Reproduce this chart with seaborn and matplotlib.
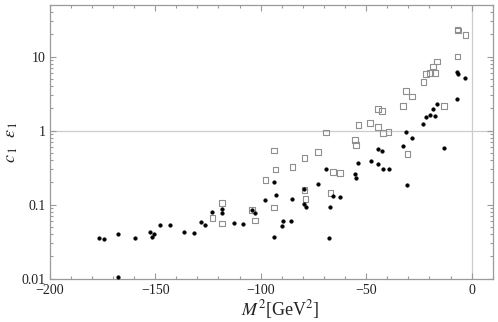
import numpy as np
import pandas as pd
import matplotlib
matplotlib.use("Agg")
import matplotlib.pyplot as plt
import seaborn as sns
from matplotlib.ticker import MultipleLocator, LogLocator, FixedLocator, NullFormatter

# ---- data ----
c1_m2 = [-176.8, -174.4, -167.6, -167.6, -159.6, -152.6, -151.6, -150.4, -147.9, -143.0,
         -136.2, -131.6, -128.3, -126.6, -122.9, -118.2, -118.2, -112.7, -108.6, -104.0,
         -102.6, -98.0, -93.8, -92.9, -93.7, -89.2, -89.8, -85.5, -85.3, -79.6,
         -79.6, -78.7, -72.9, -69.1, -65.6, -67.1, -67.8, -62.4, -55.3, -54.7,
         -54.0, -47.9, -44.4, -42.0, -39.3, -44.4, -42.4, -32.6, -13.0, -30.8,
         -31.0, -28.4, -22.9, -21.7, -19.8, -17.3, -18.5, -16.3, -6.8, -6.8,
         -6.6, -3.0]
c1_val = [0.0360, 0.0344, 0.0407, 0.0104, 0.0356, 0.0430, 0.0365, 0.0405, 0.0538, 0.0525,
          0.0430, 0.0415, 0.0575, 0.0525, 0.0788, 0.0872, 0.0771, 0.0574, 0.0555, 0.0846,
          0.0780, 0.117, 0.2015, 0.136, 0.0371, 0.061, 0.0514, 0.061, 0.121, 0.165,
          0.103, 0.092, 0.192, 0.308, 0.130, 0.0934, 0.0355, 0.128, 0.258, 0.228,
          0.363, 0.386, 0.354, 0.301, 0.305, 0.567, 0.538, 0.615, 0.590, 0.186,
          0.949, 0.805, 1.24, 1.54, 1.61, 1.59, 1.96, 2.33, 2.67, 6.22,
          5.90, 5.12]

e1_m2 = [-122.9, -118.2, -118.2, -104.0, -102.6, -97.8, -93.6, -93.0, -93.6, -85.0,
         -79.3, -79.3, -78.7, -72.7, -68.9, -67.0, -65.6, -62.3, -55.3, -54.7,
         -53.7, -48.1, -44.3, -41.9, -39.5, -44.3, -42.4, -32.4, -13.0, -30.4,
         -31.0, -28.2, -22.9, -21.7, -19.8, -17.3, -18.2, -16.3, -6.8, -6.8,
         -6.4, -3.0]
e1_val = [0.0664, 0.106, 0.0555, 0.0846, 0.0611, 0.217, 0.543, 0.301, 0.0911, 0.325,
          0.424, 0.158, 0.120, 0.514, 0.949, 0.145, 0.278, 0.270, 0.750, 0.642,
          1.19, 1.27, 1.12, 0.931, 0.960, 1.96, 1.84, 2.17, 2.17, 0.486,
          3.45, 2.90, 4.52, 5.85, 5.98, 5.98, 7.33, 8.67, 10.0, 23.4,
          22.6, 19.6]

x_ticks = [-200, -150, -100, -50, 0]
x_tick_labels = ["\u2212200", "\u2212150", "\u2212100", "\u221250", "0"]
y_ticks = [0.01, 0.1, 1, 10]
y_tick_labels = ["0.01", "0.1", "1", "10"]

df_c = pd.DataFrame({"M2": c1_m2, "val": c1_val})
df_e = pd.DataFrame({"M2": e1_m2, "val": e1_val})

sns.set_style("ticks")
plt.rcParams["font.family"] = ["Liberation Serif", "DejaVu Serif"]
plt.rcParams["mathtext.fontset"] = "stix"

fig = plt.figure(figsize=(4.98, 3.22), dpi=100)
ax = fig.add_axes([0.0998, 0.1345, 0.8896, 0.85])

ax.axhline(1, color="#cccccc", lw=0.9, zorder=0)
ax.axvline(0, color="#cccccc", lw=0.9, zorder=0)

sns.scatterplot(data=df_e, x="M2", y="val", ax=ax, marker="s", s=16,
                facecolor="none", edgecolor="#8f8f8f", linewidth=0.8, zorder=3)
sns.scatterplot(data=df_c, x="M2", y="val", ax=ax, marker="o", s=7,
                color="black", edgecolor="black", linewidth=0.3, zorder=4)

ax.set_yscale("log")
ax.set_xlim(-200, 10)
ax.set_ylim(0.01, 50)

ax.xaxis.set_major_locator(FixedLocator(x_ticks))
ax.set_xticklabels(x_tick_labels)
ax.xaxis.set_minor_locator(MultipleLocator(10))
ax.yaxis.set_major_locator(FixedLocator(y_ticks))
ax.set_yticklabels(y_tick_labels)
ax.yaxis.set_minor_locator(LogLocator(base=10, subs=np.arange(2, 10)))
ax.yaxis.set_minor_formatter(NullFormatter())

for s in ax.spines.values():
    s.set_color("#9a9a9a")
    s.set_linewidth(0.9)

ax.tick_params(which="both", direction="in", top=True, right=True, color="#9a9a9a",
               labelsize=10, labelcolor="#222222", width=0.8)
ax.tick_params(which="major", length=4.5)
ax.tick_params(axis="x", which="major", pad=3.5)
ax.tick_params(axis="y", which="major", pad=3)
ax.tick_params(which="minor", length=2.5)

ax.set_xlabel(r"$M^2$[GeV$^2$]", fontsize=13, color="#222222")
ax.xaxis.set_label_coords(0.52, -0.072)
ax.set_ylabel(r"$c_{\,1}\ \ \epsilon_{\,1}$", fontsize=13, color="#222222")
ax.yaxis.set_label_coords(-0.068, 0.5)

fig.savefig("out.png", dpi=100)
